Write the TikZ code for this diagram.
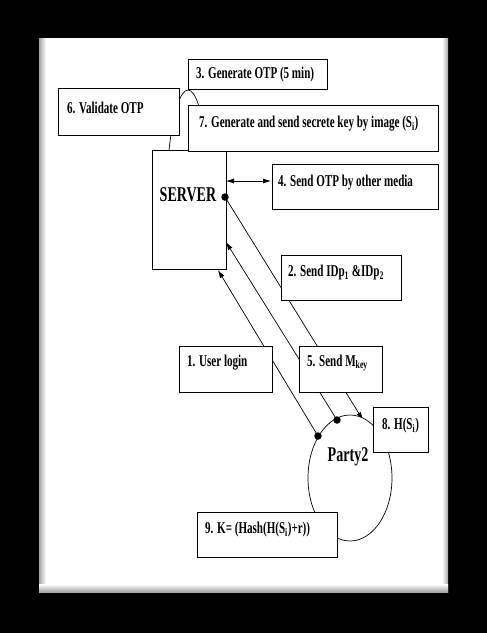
\documentclass[tikz,border=0pt]{standalone}
\usepackage{fontspec}
\setmainfont[FakeStretch=0.67]{Liberation Serif}
\usetikzlibrary{arrows.meta,shapes.geometric}
\begin{document}
\begin{tikzpicture}[x=1pt,y=-1pt,
  boxnode/.style={draw, fill=white, line width=0.8pt, inner sep=0pt, anchor=north west},
  lbl/.style={anchor=west, inner sep=0pt, font=\bfseries\fontsize{16.5}{18}\selectfont},
  big/.style={inner sep=0pt, font=\bfseries\fontsize{21}{23}\selectfont},
  conn/.style={line width=0.7pt},
  tip/.style={-{Latex[length=8pt,width=5pt]}},
  dotmark/.style={circle, fill=black, inner sep=0pt, minimum width=6pt, minimum height=7.5pt}
]
% background and page
\fill[black] (0,0) rectangle (487,633);
\useasboundingbox (0,0) rectangle (487,633);
\fill[white] (39,38) rectangle (448,592);
\shade[left color=gray!70, right color=white] (39,38) rectangle (46,592);
\shade[left color=white, right color=gray!70] (442,38) rectangle (448,592);
\shade[top color=white, bottom color=gray!70] (39,584) rectangle (448,592);

% coordinates of connector ends
\coordinate (sA) at (218,270);
\coordinate (sB) at (226,242);
\coordinate (sC) at (225,197);
\coordinate (pA) at (318,436);
\coordinate (pB) at (337,420);
\coordinate (pC) at (363,420);

% self loop on server (mostly hidden behind boxes)
\draw[conn] (169,150) .. controls (178,70) and (198,70) .. (207,150);

% connectors
\draw[conn, tip] (pA) -- (sA);
\draw[conn, tip] (pB) -- (sB);
\draw[conn, tip] (sC) -- (pC);

% Party2
\node[draw, ellipse, fill=white, line width=0.7pt, minimum width=84pt, minimum height=126pt] (p2) at (350,478) {};
\node[big] (p2t) at (348,457) {Party2};

% server
\node[boxnode, minimum width=74pt, minimum height=119pt] (srv) at (152,150) {};
\node[big] (srvt) at (188,195) {SERVER};

% boxes
\node[boxnode, minimum width=139pt, minimum height=30pt] (b3) at (188,59) {};
\node[lbl] (t3) at (196,75) {3. Generate OTP (5 min)};
\node[boxnode, minimum width=121pt, minimum height=47pt] (b6) at (58,88) {};
\node[lbl] (t6) at (67,108) {6. Validate OTP};
\node[boxnode, minimum width=250pt, minimum height=46pt] (b7) at (188,105) {};
\node[lbl] (t7) at (199,124) {7. Generate and send secrete key by image (S\textsubscript{i})};
\node[boxnode, minimum width=166pt, minimum height=45pt] (b4) at (272,164) {};
\node[lbl] (t4) at (278,183) {4. Send OTP by other media};
\node[boxnode, minimum width=120pt, minimum height=45pt] (b2) at (281,255) {};
\node[lbl] (t2) at (288,273) {2. Send IDp\textsubscript{1} \&IDp\textsubscript{2}};
\node[boxnode, minimum width=93pt, minimum height=46pt] (b1) at (179,346) {};
\node[lbl] (t1) at (187,363) {1. User login};
\node[boxnode, minimum width=83pt, minimum height=46pt] (b5) at (299,346) {};
\node[lbl] (t5) at (307,363) {5. Send M\textsubscript{key}};
\node[boxnode, minimum width=55pt, minimum height=45pt] (b8) at (373,407) {};
\node[lbl] (t8) at (382,426) {8. H(S\textsubscript{i})};
\node[boxnode, minimum width=140pt, minimum height=45pt] (b9) at (197,512) {};
\node[lbl] (t9) at (205,530) {9. K= (Hash(H(S\textsubscript{i})+r))};

% double arrow server <-> box 4
\coordinate (dL) at (226,181);
\coordinate (dR) at (271,181);
\draw[conn, {Latex[length=8pt,width=5pt]}-{Latex[length=8pt,width=5pt]}] (dL) -- (dR);

% dots
\node[dotmark] (dC) at (sC) {};
\node[dotmark] (dA) at (pA) {};
\node[dotmark] (dB) at (pB) {};
\end{tikzpicture}
\end{document}
